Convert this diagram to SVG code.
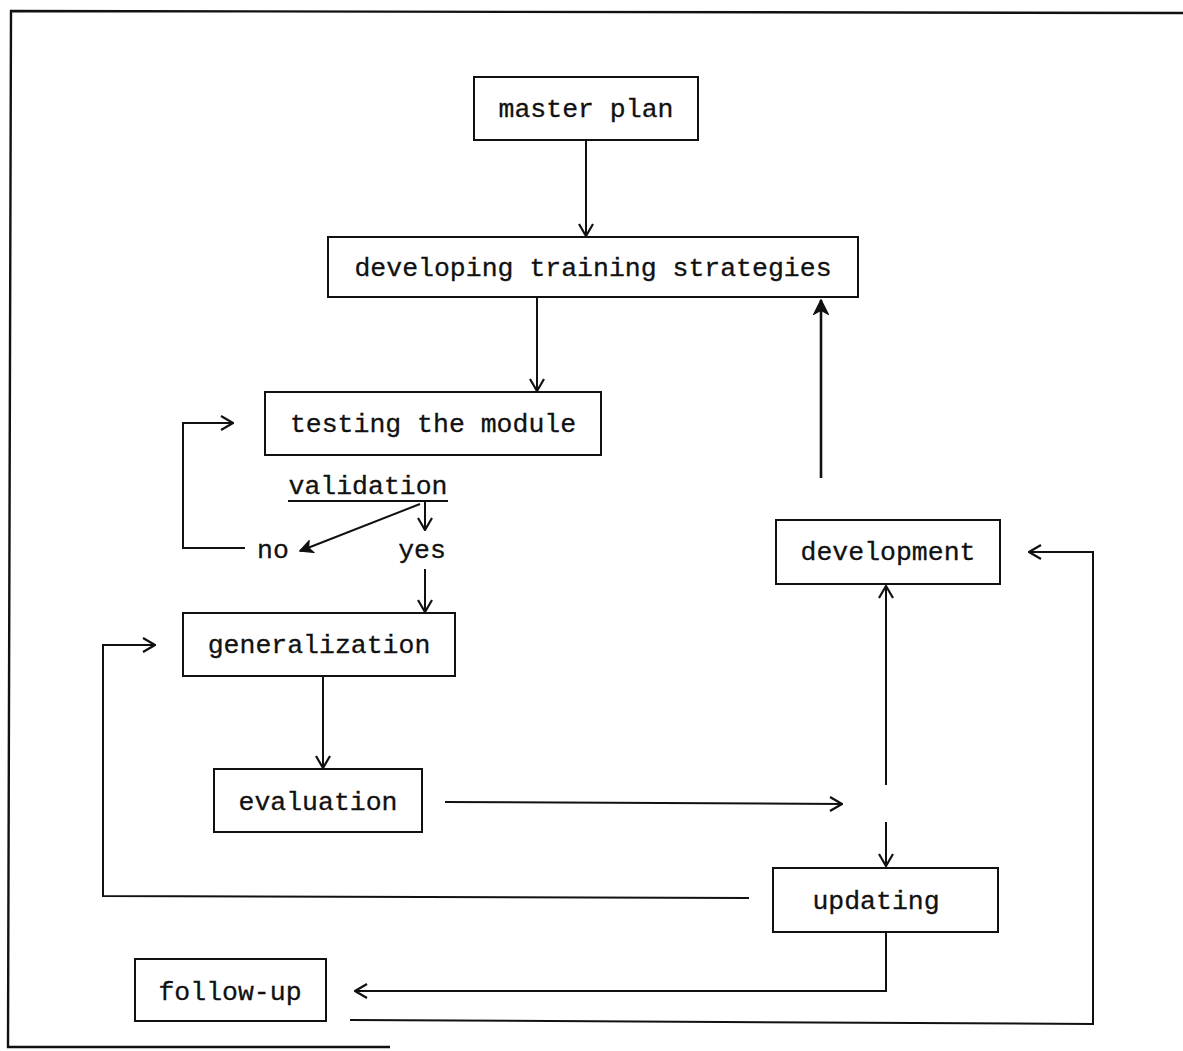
<svg xmlns="http://www.w3.org/2000/svg" width="1183" height="1051" viewBox="0 0 1183 1051">
<style>
.box{fill:#fff;stroke:#111;stroke-width:2}
.t{font-family:"Liberation Mono","DejaVu Sans Mono",monospace;font-size:26.5px;fill:#111;stroke:#111;stroke-width:0.3;text-anchor:middle}
.c{fill:none;stroke:#111;stroke-width:2}
.cb{fill:none;stroke:#111;stroke-width:2.6}
.frame{fill:none;stroke:#111;stroke-width:2.4}
</style>
<defs>
<marker id="v" viewBox="0 0 14 16" refX="13" refY="8" markerWidth="14" markerHeight="16" markerUnits="userSpaceOnUse" orient="auto">
<path d="M1,1 L13,8 L1,15" fill="none" stroke="#111" stroke-width="2.2"/>
</marker>
<marker id="f" viewBox="0 0 14 14" refX="13" refY="7" markerWidth="14" markerHeight="14" markerUnits="userSpaceOnUse" orient="auto">
<path d="M1,1 L13,7 L1,13 L4,7 Z" fill="#111" stroke="#111" stroke-width="1.5"/>
</marker>
<marker id="b" viewBox="0 0 16 16" refX="15" refY="8" markerWidth="16" markerHeight="16" markerUnits="userSpaceOnUse" orient="auto">
<path d="M1,1 L15,8 L1,15 L5,8 Z" fill="#111" stroke="#111" stroke-width="1.5"/>
</marker>
</defs>
<g id="frame">
<path class="frame" d="M1183,13 L11,11 L8,1047 L390,1047"/>
</g>
<g id="connectors">
<line class="c" x1="586" y1="140" x2="586" y2="236" marker-end="url(#v)"/>
<line class="c" x1="537" y1="297" x2="537" y2="391" marker-end="url(#v)"/>
<line class="c" x1="425" y1="501" x2="425" y2="530" marker-end="url(#v)"/>
<line class="c" x1="420" y1="504" x2="300" y2="551" marker-end="url(#f)"/>
<path class="c" d="M245,548 L183,548 L183,423 L233,423" marker-end="url(#v)"/>
<line class="c" x1="425" y1="569" x2="425" y2="612" marker-end="url(#v)"/>
<path class="c" d="M749,898 L103,896 L103,645 L155,645" marker-end="url(#v)"/>
<line class="c" x1="323" y1="677" x2="323" y2="768" marker-end="url(#v)"/>
<line class="c" x1="445" y1="802" x2="842" y2="804" marker-end="url(#v)"/>
<line class="c" x1="886" y1="785" x2="886" y2="586" marker-end="url(#v)"/>
<line class="c" x1="886" y1="822" x2="886" y2="866" marker-end="url(#v)"/>
<line class="cb" x1="821" y1="478" x2="821" y2="300" marker-end="url(#b)"/>
<path class="c" d="M886,932 L886,991 L355,991" marker-end="url(#v)"/>
<path class="c" d="M350,1020 L1093,1024 L1093,552 L1029,552" marker-end="url(#v)"/>
</g>
<g id="master-plan">
<rect class="box" x="474" y="77" width="224" height="63"/>
<text class="t" x="586" y="117">master plan</text>
</g>
<g id="developing-training-strategies">
<rect class="box" x="328" y="237" width="530" height="60"/>
<text class="t" x="593" y="276">developing training strategies</text>
</g>
<g id="testing-the-module">
<rect class="box" x="265" y="392" width="336" height="63"/>
<text class="t" x="433" y="432">testing the module</text>
</g>
<g id="validation">
<text class="t" x="368" y="494">validation</text>
<line class="c" x1="288" y1="501" x2="448" y2="501"/>
</g>
<g id="no">
<text class="t" x="273" y="558">no</text>
</g>
<g id="yes">
<text class="t" x="422" y="558">yes</text>
</g>
<g id="generalization">
<rect class="box" x="183" y="613" width="272" height="63"/>
<text class="t" x="319" y="653">generalization</text>
</g>
<g id="evaluation">
<rect class="box" x="214" y="769" width="208" height="63"/>
<text class="t" x="318" y="810">evaluation</text>
</g>
<g id="development">
<rect class="box" x="776" y="520" width="224" height="64"/>
<text class="t" x="888" y="560">development</text>
</g>
<g id="updating">
<rect class="box" x="773" y="868" width="225" height="64"/>
<text class="t" x="876" y="909">updating</text>
</g>
<g id="follow-up">
<rect class="box" x="135" y="959" width="191" height="62"/>
<text class="t" x="230" y="1000">follow-up</text>
</g>
</svg>
